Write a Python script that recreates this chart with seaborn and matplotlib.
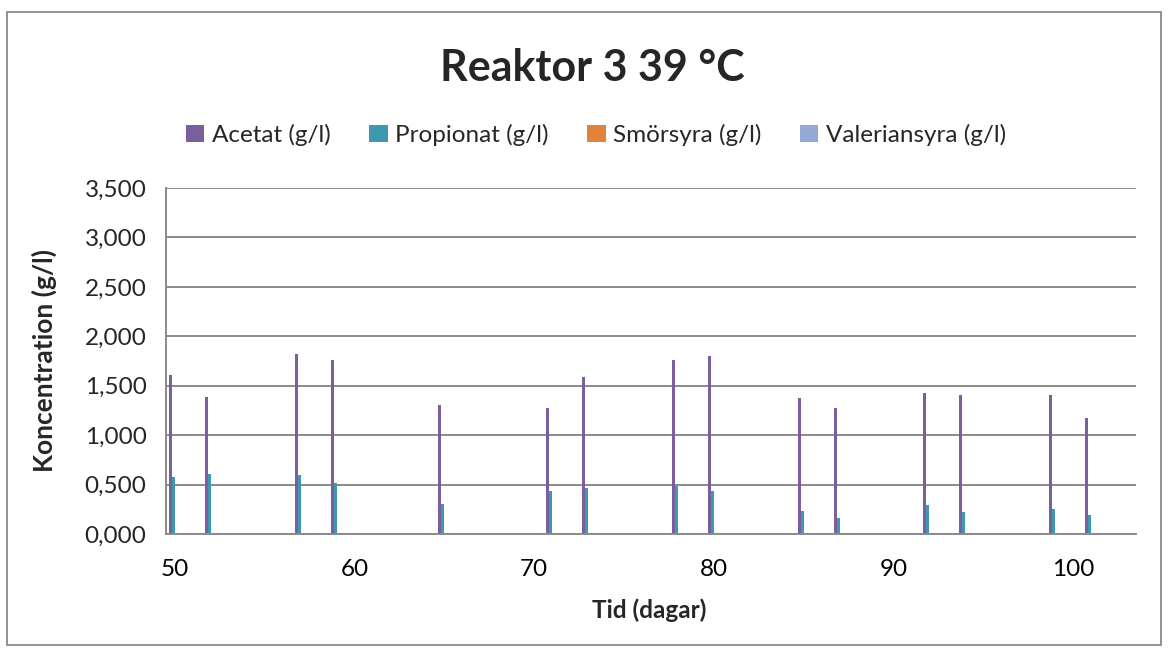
import numpy as np
import pandas as pd
import matplotlib
matplotlib.use("Agg")
import matplotlib.pyplot as plt
from matplotlib.patches import Rectangle
from matplotlib.ticker import FixedLocator, FuncFormatter
import seaborn as sns

# Sampling days and measured volatile fatty acid concentrations (g/l)
dagar = [50, 52, 57, 59, 65, 71, 73, 78, 80, 85, 87, 92, 94, 99, 101]
acetat = [1.605, 1.382, 1.818, 1.757, 1.308, 1.271, 1.585, 1.757, 1.805,
          1.379, 1.278, 1.430, 1.406, 1.403, 1.169]
propionat = [0.581, 0.605, 0.595, 0.517, 0.307, 0.439, 0.470, 0.483, 0.439,
             0.236, 0.162, 0.290, 0.226, 0.250, 0.196]
smorsyra = [0.0] * len(dagar)
valeriansyra = [0.0] * len(dagar)

serier = ["Acetat (g/l)", "Propionat (g/l)", "Smörsyra (g/l)", "Valeriansyra (g/l)"]
farger = ["#7A5E9E", "#3F98AF", "#E2823C", "#94A9D3"]
y_ticks = [0.0, 0.5, 1.0, 1.5, 2.0, 2.5, 3.0, 3.5]
x_labels = [50, 60, 70, 80, 90, 100]

rows = []
for namn, vals in zip(serier, [acetat, propionat, smorsyra, valeriansyra]):
    for d, v in zip(dagar, vals):
        rows.append({"Dag": d, "Serie": namn, "Värde": v})
df = pd.DataFrame(rows)

sns.set_style("white")
plt.rcParams["font.family"] = ["Lato", "DejaVu Sans"]

W, H = 1168, 651
fig = plt.figure(figsize=(W / 100, H / 100), dpi=100)
ax = fig.add_axes([166 / W, 1 - 534 / H, 970 / W, 346 / H])

sns.barplot(data=df, x="Dag", y="Värde", hue="Serie", hue_order=serier,
            palette=farger, native_scale=True, width=0.3335, gap=0,
            saturation=1, linewidth=0, errorbar=None, ax=ax)

ax.set_xlim(49.5, 103.5)
ax.set_ylim(0, 3.5)

grid_col = "#8A8A8A"
ax.set_yticks(y_ticks)
ax.yaxis.set_major_formatter(FuncFormatter(lambda v, p: f"{v:.3f}".replace(".", ",")))
ax.yaxis.grid(True, color=grid_col, lw=1.4)
ax.set_axisbelow(True)

ax.xaxis.set_major_locator(FixedLocator(x_labels))
ax.xaxis.set_major_formatter(FuncFormatter(lambda v, p: f"{int(v)}"))
ax.xaxis.set_minor_locator(FixedLocator(np.arange(49.5, 103.6, 1.0)))
ax.tick_params(axis="x", which="major", length=0, pad=18, labelsize=17.5, colors="black")
ax.tick_params(axis="x", which="minor", length=6, width=1.3, color=grid_col, direction="out")
ax.tick_params(axis="y", which="major", length=6, width=1.3, color=grid_col,
               direction="out", pad=8, labelsize=17.5)

for s in ["top", "right"]:
    ax.spines[s].set_visible(False)
for s in ["left", "bottom"]:
    ax.spines[s].set_color(grid_col)
    ax.spines[s].set_linewidth(1.4)

ax.set_xlabel("Tid (dagar)", fontsize=17.5, fontweight="bold")
ax.set_ylabel("Koncentration (g/l)", fontsize=19, fontweight="bold")
ax.xaxis.set_label_coords(483 / 970, (534 - 598) / 346)
ax.yaxis.set_label_coords((57 - 166) / 970, 0.5)

handles, labels = ax.get_legend_handles_labels()
ax.get_legend().remove()
fig.legend(handles, labels, loc="center", bbox_to_anchor=(596 / W, 1 - 135 / H),
           ncol=4, frameon=False, fontsize=17.5, handlelength=0.75, handleheight=0.75,
           handletextpad=0.3, columnspacing=1.6)

fig.text(592 / W, 1 - 68 / H, "Reaktor 3 39 °C", ha="center", va="center",
         fontsize=31, fontweight="bold")

fig.patches.append(Rectangle((7 / W, 6 / H), 1154 / W, 633 / H, transform=fig.transFigure,
                             fill=False, edgecolor="#898989", lw=1.3))

fig.savefig("out.png", dpi=100)
